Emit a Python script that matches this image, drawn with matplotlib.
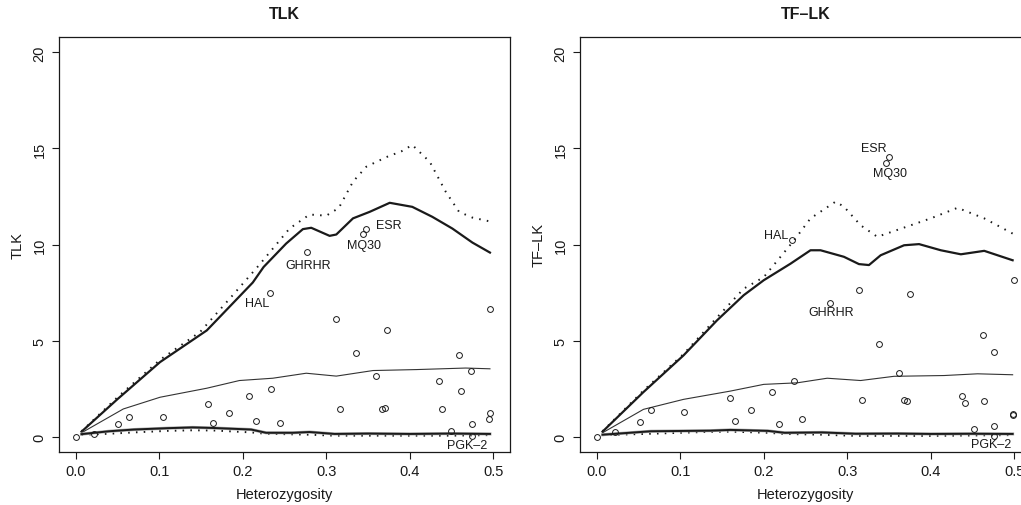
#!/usr/bin/env python
"""TLK / TF-LK against heterozygosity, with simulated quantile envelopes."""
import matplotlib
matplotlib.use("Agg")
import matplotlib.pyplot as plt

plt.rcParams["font.family"] = ["Liberation Sans", "DejaVu Sans"]

# ---- TLK panel -------------------------------------------------------
tlk_het = [0.000, 0.022, 0.051, 0.064, 0.104, 0.159, 0.164, 0.184, 0.208, 0.216,
           0.233, 0.234, 0.245, 0.277, 0.312, 0.316, 0.336, 0.344, 0.348, 0.360,
           0.367, 0.370, 0.373, 0.435, 0.439, 0.449, 0.459, 0.461, 0.473, 0.474,
           0.474, 0.496, 0.496, 0.495]
tlk_val = [0.00, 0.16, 0.65, 1.03, 1.03, 1.71, 0.70, 1.24, 2.12, 0.82,
           7.48, 2.47, 0.70, 9.60, 6.14, 1.46, 4.35, 10.57, 10.82, 3.18,
           1.44, 1.47, 5.53, 2.87, 1.42, 0.31, 4.24, 2.37, 3.41, 0.64,
           0.02, 6.63, 1.24, 0.91]
tlk_names = {"HAL": 10, "GHRHR": 13, "MQ30": 17, "ESR": 18, "PGK\u20132": 30}

tlk_up_x = [0.007, 0.05, 0.101, 0.157, 0.212, 0.225, 0.252, 0.272, 0.282, 0.304,
            0.312, 0.332, 0.352, 0.376, 0.403, 0.427, 0.451, 0.475, 0.496]
tlk_up = [0.26, 1.95, 3.88, 5.53, 8.02, 8.83, 10.05, 10.8, 10.87, 10.45,
          10.52, 11.36, 11.7, 12.17, 11.96, 11.44, 10.83, 10.1, 9.58]
tlk_updot_x = [0.007, 0.05, 0.101, 0.149, 0.188, 0.22, 0.256, 0.280, 0.300, 0.315,
               0.332, 0.348, 0.372, 0.390, 0.403, 0.424, 0.443, 0.459, 0.475, 0.496]
tlk_updot = [0.28, 2.05, 4.0, 5.45, 7.36, 8.95, 10.83, 11.56, 11.5, 11.9,
             13.27, 14.05, 14.55, 14.85, 15.18, 14.3, 12.75, 11.7, 11.4, 11.2]
tlk_mid_x = [0.007, 0.057, 0.101, 0.157, 0.196, 0.236, 0.276, 0.312, 0.356, 0.408,
             0.467, 0.496]
tlk_mid = [0.2, 1.44, 2.05, 2.52, 2.92, 3.04, 3.3, 3.15, 3.44, 3.49, 3.57, 3.53]
tlk_low_x = [0.007, 0.04, 0.07, 0.11, 0.14, 0.165, 0.21, 0.228, 0.26, 0.28,
             0.31, 0.35, 0.40, 0.45, 0.496]
tlk_low = [0.13, 0.28, 0.37, 0.44, 0.48, 0.45, 0.37, 0.20, 0.20, 0.24,
           0.14, 0.16, 0.14, 0.16, 0.14]
tlk_lowdot = [0.10, 0.15, 0.22, 0.30, 0.33, 0.32, 0.22, 0.15, 0.12, 0.10,
              0.05, 0.05, 0.05, 0.05, 0.08]

# ---- TF-LK panel -----------------------------------------------------
tflk_het = [0.000, 0.022, 0.052, 0.065, 0.105, 0.160, 0.165, 0.185, 0.210, 0.218,
            0.234, 0.236, 0.246, 0.279, 0.314, 0.318, 0.338, 0.346, 0.350, 0.362,
            0.368, 0.372, 0.375, 0.437, 0.441, 0.452, 0.462, 0.464, 0.476, 0.476,
            0.476, 0.4996, 0.498, 0.499]
tflk_val = [0.00, 0.23, 0.78, 1.37, 1.27, 2.02, 0.80, 1.39, 2.31, 0.64,
            10.22, 2.90, 0.91, 6.97, 7.65, 1.91, 4.80, 14.23, 14.57, 3.32,
            1.93, 1.83, 7.44, 2.14, 1.76, 0.42, 5.27, 1.83, 4.42, 0.57,
            0.05, 8.17, 1.16, 1.12]
tflk_names = {"HAL": 10, "GHRHR": 13, "MQ30": 17, "ESR": 18, "PGK\u20132": 30}

tflk_up_x = [0.007, 0.056, 0.104, 0.144, 0.176, 0.200, 0.232, 0.256, 0.268, 0.296,
             0.314, 0.326, 0.340, 0.368, 0.386, 0.412, 0.436, 0.464, 0.498]
tflk_up = [0.26, 2.32, 4.23, 6.05, 7.36, 8.14, 9.0, 9.7, 9.7, 9.36,
           8.98, 8.93, 9.44, 9.96, 10.02, 9.7, 9.49, 9.67, 9.18]
tflk_updot_x = [0.007, 0.056, 0.104, 0.144, 0.176, 0.200, 0.236, 0.256, 0.286, 0.296,
                0.316, 0.336, 0.376, 0.400, 0.432, 0.464, 0.498]
tflk_updot = [0.28, 2.4, 4.3, 6.2, 7.7, 8.3, 10.2, 11.36, 12.23, 11.97,
              11.0, 10.4, 11.0, 11.36, 11.91, 11.36, 10.57]
tflk_mid_x = [0.007, 0.056, 0.104, 0.160, 0.200, 0.240, 0.276, 0.316, 0.356, 0.416,
              0.456, 0.498]
tflk_mid = [0.2, 1.42, 1.94, 2.37, 2.72, 2.8, 3.04, 2.92, 3.14, 3.18, 3.27, 3.22]
tflk_low_x = [0.007, 0.065, 0.136, 0.160, 0.205, 0.225, 0.27, 0.31, 0.36, 0.40,
              0.45, 0.498]
tflk_low = [0.10, 0.28, 0.31, 0.35, 0.30, 0.20, 0.22, 0.15, 0.16, 0.14, 0.15, 0.14]
tflk_lowdot = [0.08, 0.15, 0.25, 0.26, 0.20, 0.14, 0.10, 0.04, 0.04, 0.04, 0.06, 0.08]

# label offsets (points): (dx, dy, ha)
tlk_offs = {"HAL": (-1, -7, "right"), "GHRHR": (1, -9, "center"),
            "MQ30": (1, -8, "center"), "ESR": (7, 3, "left"),
            "PGK\u20132": (-3, -6, "center")}
tflk_offs = {"HAL": (-3, 4, "right"), "GHRHR": (1, -7, "center"),
             "MQ30": (3, -7, "center"), "ESR": (-2, 6, "right"),
             "PGK\u20132": (-2, -6, "center")}

fig = plt.figure(figsize=(10.21, 5.06), dpi=100)
W, H = 1021, 506
panels = [
    (59, "TLK", "TLK", tlk_het, tlk_val, tlk_names, tlk_offs,
     (tlk_up_x, tlk_up), (tlk_updot_x, tlk_updot), (tlk_mid_x, tlk_mid),
     (tlk_low_x, tlk_low, tlk_lowdot)),
    (580, "TF\u2013LK", "TF\u2013LK", tflk_het, tflk_val, tflk_names, tflk_offs,
     (tflk_up_x, tflk_up), (tflk_updot_x, tflk_updot), (tflk_mid_x, tflk_mid),
     (tflk_low_x, tflk_low, tflk_lowdot)),
]
ink = "#1a1a1a"
for (left, title, ylab, hx, hy, names, offs, up, updot, mid, low) in panels:
    ax = fig.add_axes([left / W, 1 - 453 / H, 451 / W, (453 - 38) / H])
    ax.plot(up[0], up[1], "-", color=ink, lw=1.6)
    ax.plot(updot[0], updot[1], color=ink, lw=1.4, linestyle=(0, (0.8, 3.2)))
    ax.plot(mid[0], mid[1], "-", color="#333333", lw=0.8)
    ax.plot(low[0], low[2], color=ink, lw=1.4, linestyle=(0, (0.8, 3.2)))
    ax.plot(low[0], low[1], "-", color="#aaaaaa", lw=2.2)
    ax.plot(low[0], low[1], "-", color=ink, lw=1.4)
    ax.plot(hx, hy, "o", ms=4.2, mfc="none", mec=ink, mew=0.7)
    for name, i in names.items():
        dx, dy, ha = offs[name]
        ax.annotate(name, (hx[i], hy[i]), xytext=(dx, dy),
                    textcoords="offset points", ha=ha, va="center",
                    fontsize=9, color=ink)
    ax.set_xlim(-0.02, 0.52)
    ax.set_ylim(-0.8, 20.8)
    ax.set_xticks([0.0, 0.1, 0.2, 0.3, 0.4, 0.5])
    ax.set_xticklabels(["0.0", "0.1", "0.2", "0.3", "0.4", "0.5"])
    ax.set_yticks([0, 5, 10, 15, 20])
    ax.tick_params(direction="out", length=5, width=0.8, labelsize=10.5,
                   colors=ink, pad=4)
    for lab in ax.get_yticklabels():
        lab.set_rotation(90)
        lab.set_va("center")
    for s in ax.spines.values():
        s.set_linewidth(0.9)
        s.set_color(ink)
    ax.set_xlabel("Heterozygosity", fontsize=10.5, color=ink, labelpad=6)
    ax.set_ylabel(ylab, fontsize=10.5, color=ink, labelpad=6)
    ax.set_title(title, fontsize=11.5, fontweight="bold", color=ink, pad=14)

fig.savefig("out.png", dpi=100)
print("wrote out.png")
